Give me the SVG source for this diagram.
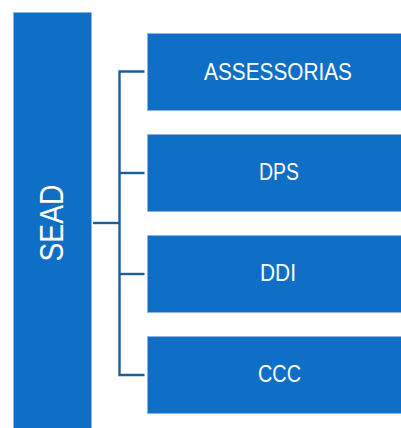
<svg xmlns="http://www.w3.org/2000/svg" width="401" height="428" viewBox="0 0 401 428">
<style>
.box{fill:#0F6FC6;stroke:#8CB3E2;stroke-width:1}
.lbl{fill:#FFFFFF;font-family:"Liberation Sans",Arial,sans-serif;font-size:23px;text-anchor:middle}
.con{fill:none;stroke:#1A5E9E;stroke-width:2.4}
</style>
<rect width="401" height="428" fill="#FFFFFF"/>
<g id="connectors">
<path class="con" d="M93,223 H119.5"/>
<path class="con" d="M144.5,71.5 H119.5 V375 H144.5"/>
<path class="con" d="M119.5,173 H144.5"/>
<path class="con" d="M119.5,274 H144.5"/>
</g>
<g id="sead">
<rect class="box" x="13.5" y="12.5" width="78" height="416"/>
<text class="lbl" transform="translate(63,223) rotate(-90)" style="font-size:34px" textLength="77" lengthAdjust="spacingAndGlyphs">SEAD</text>
</g>
<g id="assessorias">
<rect class="box" x="147.5" y="33.5" width="262" height="77"/>
<text class="lbl" x="278" y="80" textLength="148" lengthAdjust="spacingAndGlyphs">ASSESSORIAS</text>
</g>
<g id="dps">
<rect class="box" x="147.5" y="134.5" width="262" height="77"/>
<text class="lbl" x="279" y="180" textLength="40" lengthAdjust="spacingAndGlyphs">DPS</text>
</g>
<g id="ddi">
<rect class="box" x="147.5" y="235.5" width="262" height="77"/>
<text class="lbl" x="278" y="281" textLength="36" lengthAdjust="spacingAndGlyphs">DDI</text>
</g>
<g id="ccc">
<rect class="box" x="147.5" y="336.5" width="262" height="77"/>
<text class="lbl" x="279.5" y="382" textLength="43" lengthAdjust="spacingAndGlyphs">CCC</text>
</g>
</svg>
